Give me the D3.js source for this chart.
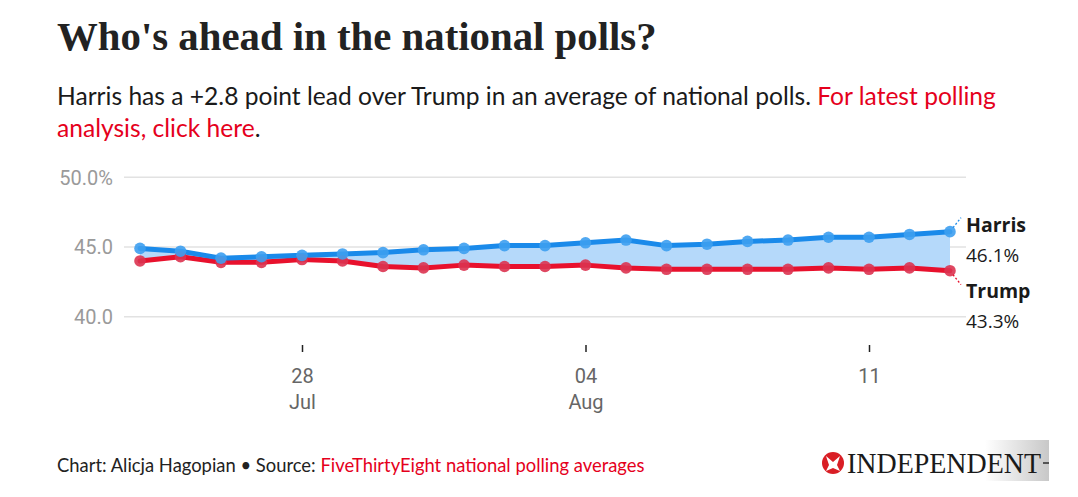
<!DOCTYPE html>
<html><head><meta charset="utf-8">
<script src="https://cdn.jsdelivr.net/npm/d3@7"></script>
<style>body{margin:0;background:#fff} svg{display:block}</style>
</head><body>
<svg id="c" width="1078" height="497"></svg>
<script>
const dates = ["2024-07-24","2024-07-25","2024-07-26","2024-07-27","2024-07-28","2024-07-29","2024-07-30",
  "2024-07-31","2024-08-01","2024-08-02","2024-08-03","2024-08-04","2024-08-05","2024-08-06",
  "2024-08-07","2024-08-08","2024-08-09","2024-08-10","2024-08-11","2024-08-12","2024-08-13"];
const harris = [44.9,44.7,44.2,44.3,44.4,44.5,44.6,44.8,44.9,45.1,45.1,45.3,45.5,45.1,45.2,45.4,45.5,45.7,45.7,45.9,46.1];
const trump  = [44.0,44.3,43.9,43.9,44.1,44.0,43.6,43.5,43.7,43.6,43.6,43.7,43.5,43.4,43.4,43.4,43.4,43.5,43.4,43.5,43.3];
const yTicks = [40, 45, 50];
const yTickLabels = ["40.0", "45.0", "50.0%"];
const xTickDates = ["2024-07-28", "2024-08-04", "2024-08-11"];
const xTickDay = ["28", "04", "11"];
const xTickMonth = ["Jul", "Aug", ""];
const seriesNames = ["Harris", "Trump"];

const parse = d3.timeParse("%Y-%m-%d");
const svg = d3.select("#c");
const BLUE = "#1a8aea", BLUE_DOT = "#3d9ef0", FILL = "#b5d9fa";
const RED = "#e8112d", RED_DOT = "#dc3350", LINK = "#e5001c";

// Title
svg.append("text").attr("x", 57).attr("y", 50)
  .style("font-family", "'Liberation Serif', serif").style("font-weight", "bold")
  .style("font-size", "40.8px").attr("fill", "#222")
  .text("Who's ahead in the national polls?");

// Subtitle
const sub = svg.append("g").style("font-family", "Lato, sans-serif").style("font-size", "24.6px").attr("fill", "#1a1a1a");
const l1 = sub.append("text").attr("x", 57).attr("y", 105);
l1.append("tspan").text("Harris has a +2.8 point lead over Trump in an average of national polls. ");
l1.append("tspan").attr("fill", LINK).text("For latest polling");
const l2 = sub.append("text").attr("x", 57).attr("y", 137);
l2.append("tspan").attr("fill", LINK).text("analysis, click here");
l2.append("tspan").text(".");

// Scales
const x = d3.scaleTime().domain([parse(dates[0]), parse(dates[dates.length - 1])]).range([140, 950]);
const y = d3.scaleLinear().domain([40, 50]).range([316.7, 177.3]);

// Grid
const grid = svg.append("g");
yTicks.forEach((t, i) => {
  grid.append("line").attr("x1", 124).attr("x2", 966).attr("y1", y(t)).attr("y2", y(t))
    .attr("stroke", "#e2e2e2").attr("stroke-width", 1.5);
  grid.append("text").attr("x", 113).attr("y", y(t)).attr("dy", "0.36em").attr("text-anchor", "end")
    .style("font-family", "Roboto, sans-serif").style("font-size", "20px").attr("fill", "#9a9a9a")
    .text(yTickLabels[i]);
});

// X axis
const xAxis = d3.axisBottom(x).tickValues(xTickDates.map(parse)).tickSize(7).tickFormat((d, i) => xTickDay[i]);
const xg = svg.append("g").attr("transform", "translate(0,345)").call(xAxis);
xg.select(".domain").remove();
xg.selectAll(".tick line").attr("stroke", "#222").attr("stroke-width", 1.5);
xg.selectAll(".tick text").attr("y", 0).attr("dy", "38px")
  .style("font-family", "Roboto, sans-serif").style("font-size", "20px").attr("fill", "#666");
xg.selectAll(".tick").append("text").attr("y", 0).attr("dy", "64px").attr("text-anchor", "middle")
  .style("font-family", "Roboto, sans-serif").style("font-size", "20px").attr("fill", "#666")
  .text((d, i) => xTickMonth[i]);

// Data
const data = dates.map((d, i) => ({ date: parse(d), h: harris[i], t: trump[i] }));

// Area
svg.append("path").datum(data)
  .attr("d", d3.area().x(d => x(d.date)).y0(d => y(Math.min(d.h, d.t))).y1(d => y(d.h)))
  .attr("fill", FILL);

// Lines
const lineGen = key => d3.line().x(d => x(d.date)).y(d => y(d[key]));
svg.append("path").datum(data).attr("d", lineGen("t")).attr("fill", "none")
  .attr("stroke", RED).attr("stroke-width", 5).attr("stroke-linejoin", "round").attr("stroke-linecap", "round");
svg.append("path").datum(data).attr("d", lineGen("h")).attr("fill", "none")
  .attr("stroke", BLUE).attr("stroke-width", 5).attr("stroke-linejoin", "round").attr("stroke-linecap", "round");

// Dots
svg.append("g").selectAll("circle").data(data).join("circle")
  .attr("cx", d => x(d.date)).attr("cy", d => y(d.t)).attr("r", 5.8).attr("fill", RED_DOT).attr("opacity", 0.9);
svg.append("g").selectAll("circle").data(data).join("circle")
  .attr("cx", d => x(d.date)).attr("cy", d => y(d.h)).attr("r", 5.8).attr("fill", BLUE_DOT).attr("opacity", 0.9);

// End labels
const last = data[data.length - 1];
const lx = x(last.date);
svg.append("line").attr("x1", lx + 3).attr("y1", y(last.h) - 4).attr("x2", lx + 11).attr("y2", y(last.h) - 14)
  .attr("stroke", BLUE).attr("stroke-width", 1.3).attr("stroke-dasharray", "2,2");
svg.append("line").attr("x1", lx + 3).attr("y1", y(last.t) + 4).attr("x2", lx + 11).attr("y2", y(last.t) + 14)
  .attr("stroke", RED).attr("stroke-width", 1.3).attr("stroke-dasharray", "2,2");

const lab = svg.append("g").style("font-family", "'Open Sans', sans-serif").attr("fill", "#1a1a1a");
const labs = [
  { name: seriesNames[0], val: last.h, ny: 232, vy: 261.5 },
  { name: seriesNames[1], val: last.t, ny: 298, vy: 327.5 }
];
labs.forEach(l => {
  lab.append("text").attr("x", 966).attr("y", l.ny).style("font-weight", "bold").style("font-size", "19.5px").text(l.name);
  lab.append("text").attr("x", 966).attr("y", l.vy).style("font-size", "19px").text(d3.format(".1f")(l.val) + "%");
});

// Footer
const ft = svg.append("text").attr("x", 57).attr("y", 472)
  .style("font-family", "Lato, sans-serif").style("font-size", "18.4px").attr("fill", "#222");
ft.append("tspan").text("Chart: Alicja Hagopian \u2022 Source: ");
ft.append("tspan").attr("fill", LINK).text("FiveThirtyEight national polling averages");

// Logo
const defs = svg.append("defs");
const gr = defs.append("linearGradient").attr("id", "fade");
gr.append("stop").attr("offset", "0%").attr("stop-color", "#fff");
gr.append("stop").attr("offset", "100%").attr("stop-color", "#c8c8c8");
svg.append("rect").attr("x", 985).attr("y", 440).attr("width", 64).attr("height", 41).attr("fill", "url(#fade)");
svg.append("circle").attr("cx", 833).attr("cy", 463).attr("r", 11).attr("fill", "#d91e25");
svg.append("path").attr("d", "M826,456 L833,462 L840,456 L837,465 L840,471 L833,468 L826,471 L829,465 Z").attr("fill", "#fff");
svg.append("text").attr("x", 847).attr("y", 473).attr("textLength", 194).attr("lengthAdjust", "spacingAndGlyphs")
  .style("font-family", "'Liberation Serif', serif").style("font-size", "29px").attr("fill", "#1a1a1a")
  .text("INDEPENDENT");
svg.append("rect").attr("x", 1043).attr("y", 462).attr("width", 6).attr("height", 2).attr("fill", "#555");
</script>
</body></html>
